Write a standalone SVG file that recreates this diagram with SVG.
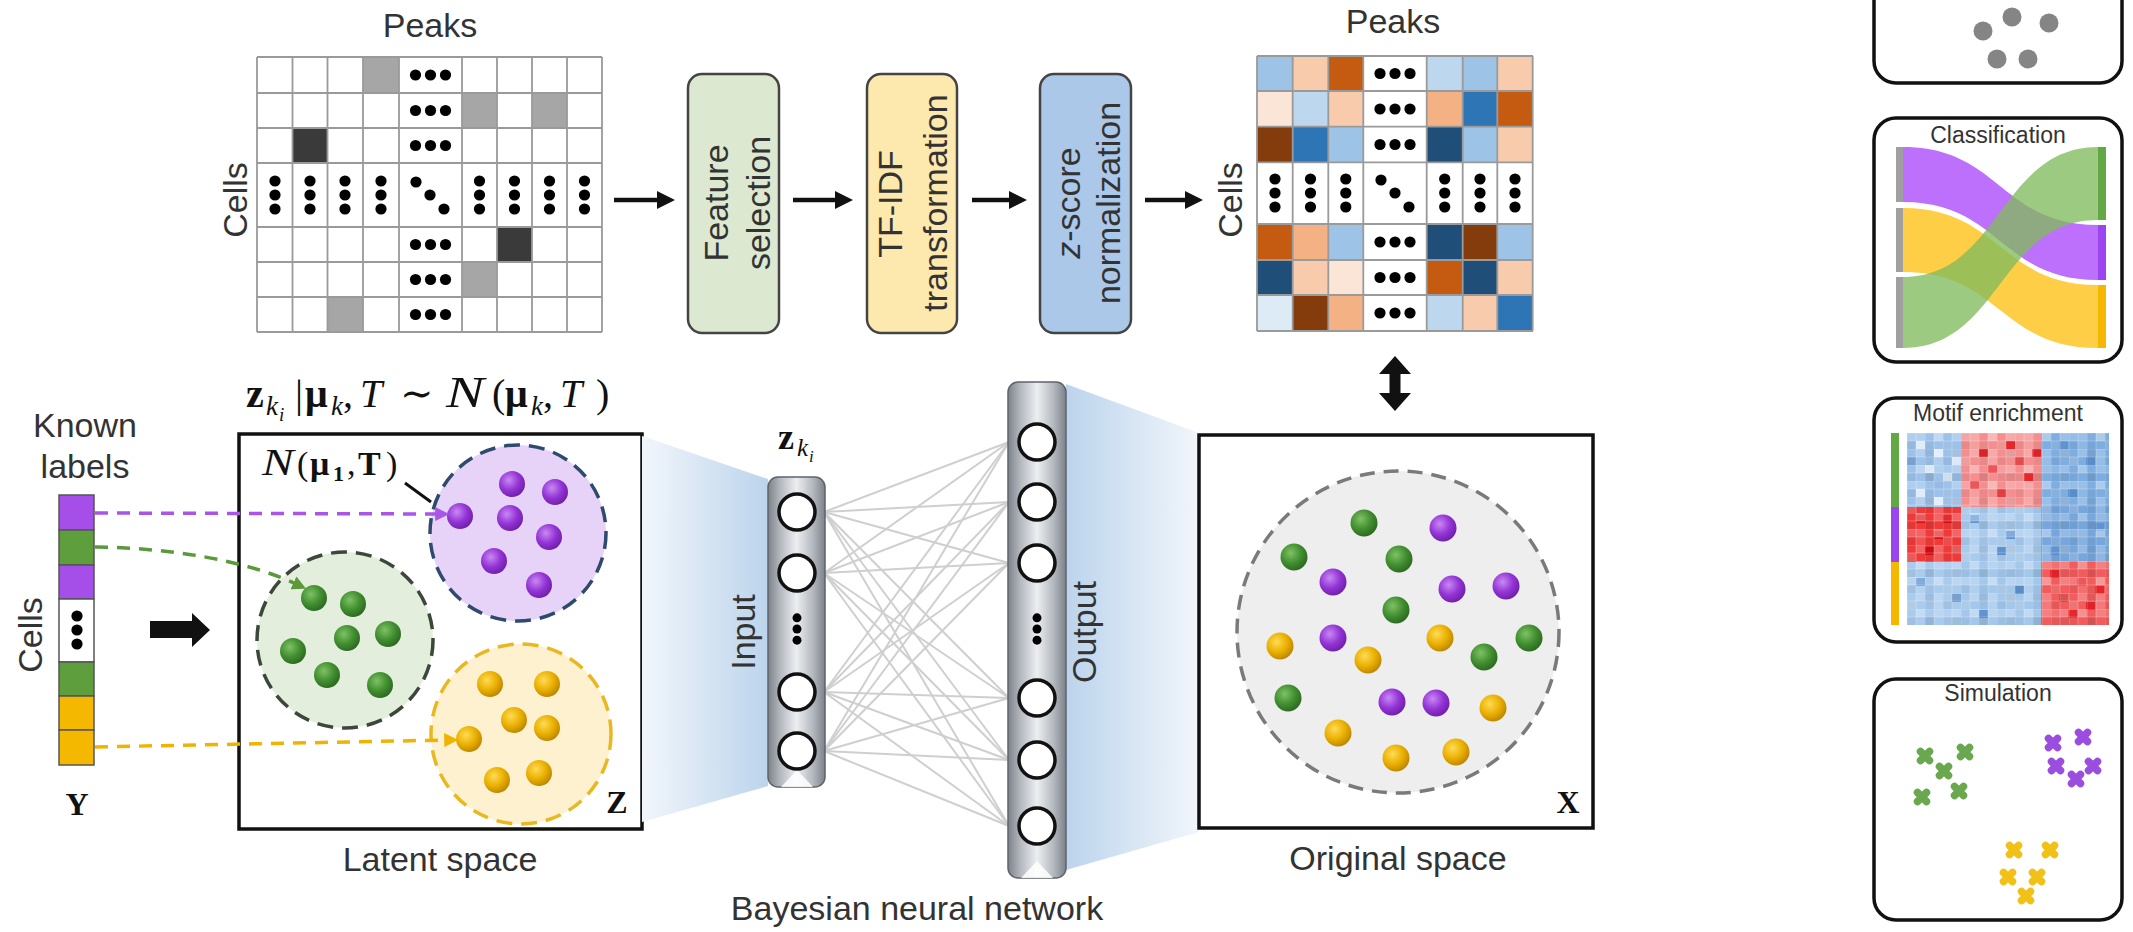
<svg xmlns="http://www.w3.org/2000/svg" width="2133" height="932" viewBox="0 0 2133 932">
<defs>
<style>
.lbl{font-family:"Liberation Sans",Arial,sans-serif;font-size:34px;fill:#333}
.sm{font-family:"Liberation Sans",Arial,sans-serif;font-size:23px;fill:#333}
.math{font-family:"Liberation Serif","DejaVu Serif",serif;fill:#111}
.grid{stroke:#9a9a9a;stroke-width:1.8;fill:none}
.step{stroke:#444;stroke-width:2.5}
.arrow{stroke:#111;stroke-width:4.5;fill:none}
.edge{stroke:#cfcfcf;stroke-width:2}
.unit{fill:#fff;stroke:#111;stroke-width:3.5}
.col{fill:url(#metal);stroke:#5f636b;stroke-width:1.5}
.panel{fill:#fff;stroke:#111;stroke-width:3.5}
.dot{fill:#000}
.ycell{stroke:#555;stroke-width:1.5}
.ball-p{fill:url(#gp)}
.ball-g{fill:url(#gg)}
.ball-y{fill:url(#gy)}
</style>
<marker id="ah" viewBox="0 0 10 10" refX="0" refY="5" markerWidth="4" markerHeight="4" orient="auto" markerUnits="strokeWidth">
<path d="M0,0L10,5L0,10Z" fill="#111"/>
</marker>
<marker id="ahp" viewBox="0 0 10 10" refX="2" refY="5" markerWidth="14" markerHeight="14" orient="auto" markerUnits="userSpaceOnUse">
<path d="M0,0L10,5L0,10Z" fill="#a855e8"/>
</marker>
<marker id="ahg" viewBox="0 0 10 10" refX="2" refY="5" markerWidth="14" markerHeight="14" orient="auto" markerUnits="userSpaceOnUse">
<path d="M0,0L10,5L0,10Z" fill="#5a9a3a"/>
</marker>
<marker id="ahy" viewBox="0 0 10 10" refX="2" refY="5" markerWidth="14" markerHeight="14" orient="auto" markerUnits="userSpaceOnUse">
<path d="M0,0L10,5L0,10Z" fill="#f0b400"/>
</marker>
<radialGradient id="gp" cx="0.38" cy="0.35" r="0.7">
<stop offset="0" stop-color="#c889f2"/><stop offset="0.55" stop-color="#9434d6"/><stop offset="1" stop-color="#6c1ea6"/>
</radialGradient>
<radialGradient id="gg" cx="0.38" cy="0.35" r="0.7">
<stop offset="0" stop-color="#7fc266"/><stop offset="0.55" stop-color="#418f30"/><stop offset="1" stop-color="#2c6620"/>
</radialGradient>
<radialGradient id="gy" cx="0.38" cy="0.35" r="0.7">
<stop offset="0" stop-color="#ffdb55"/><stop offset="0.55" stop-color="#eab000"/><stop offset="1" stop-color="#b98300"/>
</radialGradient>
<linearGradient id="metal" x1="0" y1="0" x2="1" y2="0">
<stop offset="0" stop-color="#7d8189"/><stop offset="0.22" stop-color="#b5b9c0"/><stop offset="0.5" stop-color="#eceef1"/><stop offset="0.78" stop-color="#b5b9c0"/><stop offset="1" stop-color="#7d8189"/>
</linearGradient>
<linearGradient id="fanL" gradientUnits="userSpaceOnUse" x1="642" y1="0" x2="768" y2="0">
<stop offset="0" stop-color="#f2f6fb"/><stop offset="1" stop-color="#bcd4ec"/>
</linearGradient>
<linearGradient id="fanR" gradientUnits="userSpaceOnUse" x1="1066" y1="0" x2="1199" y2="0">
<stop offset="0" stop-color="#bcd4ec"/><stop offset="1" stop-color="#f2f6fb"/>
</linearGradient>
<pattern id="tex1" width="18" height="16" patternUnits="userSpaceOnUse" x="1907" y="433">
<rect x="9" y="0" width="9" height="8" fill="#fff" opacity="0.22"/>
<rect x="0" y="8" width="9" height="8" fill="#000" opacity="0.05"/>
<path d="M0 0H18M0 8H18M0 0V16M9 0V16" stroke="#fff" stroke-opacity="0.25" stroke-width="1"/>
</pattern>
<pattern id="tex2" width="27" height="24" patternUnits="userSpaceOnUse" x="1907" y="433">
<rect x="0" y="0" width="9" height="8" fill="#fff" opacity="0.18"/>
<rect x="18" y="16" width="9" height="8" fill="#000" opacity="0.07"/>
<rect x="9" y="8" width="9" height="8" fill="#fff" opacity="0.12"/>
</pattern>
<g id="h3"><circle cx="-15" cy="0" r="5.6"/><circle cx="0" cy="0" r="5.6"/><circle cx="15" cy="0" r="5.6"/></g>
<g id="v3"><circle cx="0" cy="-14" r="5.6"/><circle cx="0" cy="0" r="5.6"/><circle cx="0" cy="14" r="5.6"/></g>
<g id="d3"><circle cx="-14" cy="-13" r="5.6"/><circle cx="0" cy="0" r="5.6"/><circle cx="14" cy="14" r="5.6"/></g>
<path id="xm" d="M-4.5,-4.5L4.5,4.5M4.5,-4.5L-4.5,4.5" stroke-width="7.5" stroke-linecap="round" fill="none"/>
</defs>

<rect width="2133" height="932" fill="#fff"/>

<!-- raw peak matrix -->
<g id="raw-matrix">
<text class="lbl" x="430" y="37" text-anchor="middle">Peaks</text>
<text class="lbl" transform="translate(247,200) rotate(-90)" text-anchor="middle">Cells</text>
<rect x="257" y="57" width="345" height="275" fill="#fff"/>
<g fill="#a6a6a6">
<rect x="363" y="57" width="36" height="36"/>
<rect x="462" y="93" width="35" height="35"/>
<rect x="532" y="93" width="35" height="35"/>
<rect x="462" y="262" width="35" height="35"/>
<rect x="327.5" y="297" width="35.5" height="35"/>
</g>
<g fill="#3a3a3a">
<rect x="292.5" y="128" width="35" height="35"/>
<rect x="497" y="227" width="35" height="35"/>
</g>
<path class="grid" d="M257 57H602M257 93H602M257 128H602M257 163H602M257 227H602M257 262H602M257 297H602M257 332H602M257 57V332M292.5 57V332M327.5 57V332M363 57V332M399 57V332M462 57V332M497 57V332M532 57V332M567 57V332M602 57V332"/>
<g class="dot">
<use href="#h3" x="430.5" y="75"/><use href="#h3" x="430.5" y="110.5"/><use href="#h3" x="430.5" y="145.5"/>
<use href="#h3" x="430.5" y="244.5"/><use href="#h3" x="430.5" y="279.5"/><use href="#h3" x="430.5" y="314.5"/>
<use href="#v3" x="275" y="195"/><use href="#v3" x="310" y="195"/><use href="#v3" x="345" y="195"/><use href="#v3" x="381" y="195"/>
<use href="#v3" x="479.5" y="195"/><use href="#v3" x="514.5" y="195"/><use href="#v3" x="549.5" y="195"/><use href="#v3" x="584.5" y="195"/>
<use href="#d3" x="430" y="195"/>
</g>
</g>

<!-- preprocessing steps -->
<g id="feature-selection">
<rect class="step" x="688" y="74" width="91" height="259" rx="14" fill="#dde8d1"/>
<text class="lbl" transform="translate(728,203) rotate(-90)" text-anchor="middle">Feature</text>
<text class="lbl" transform="translate(770,203) rotate(-90)" text-anchor="middle">selection</text>
</g>
<g id="tfidf">
<rect class="step" x="867" y="74" width="90" height="259" rx="14" fill="#fde8ae"/>
<text class="lbl" transform="translate(902,204) rotate(-90)" text-anchor="middle">TF-IDF</text>
<text class="lbl" transform="translate(947,203) rotate(-90)" text-anchor="middle">transformation</text>
</g>
<g id="zscore">
<rect class="step" x="1040" y="74" width="91" height="259" rx="14" fill="#abc8e8"/>
<text class="lbl" transform="translate(1080,203) rotate(-90)" text-anchor="middle"><tspan font-style="italic">z</tspan>-score</text>
<text class="lbl" transform="translate(1120,203) rotate(-90)" text-anchor="middle">normalization</text>
</g>

<!-- normalized matrix -->
<g id="norm-matrix">
<text class="lbl" x="1393" y="33" text-anchor="middle">Peaks</text>
<text class="lbl" transform="translate(1242,200) rotate(-90)" text-anchor="middle">Cells</text>
<rect x="1257" y="56" width="276" height="275" fill="#fff"/>
<rect x="1257" y="56" width="35.7" height="35" fill="#9dc3e6"/>
<rect x="1292.7" y="56" width="35.6" height="35" fill="#f8cbad"/>
<rect x="1328.3" y="56" width="35" height="35" fill="#c55a11"/>
<rect x="1426.7" y="56" width="36" height="35" fill="#bdd7ee"/>
<rect x="1462.7" y="56" width="34.6" height="35" fill="#9dc3e6"/>
<rect x="1497.3" y="56" width="35.4" height="35" fill="#f8cbad"/>
<rect x="1257" y="91" width="35.7" height="35.7" fill="#fbe5d6"/>
<rect x="1292.7" y="91" width="35.6" height="35.7" fill="#bdd7ee"/>
<rect x="1328.3" y="91" width="35" height="35.7" fill="#f8cbad"/>
<rect x="1426.7" y="91" width="36" height="35.7" fill="#f4b183"/>
<rect x="1462.7" y="91" width="34.6" height="35.7" fill="#2e75b6"/>
<rect x="1497.3" y="91" width="35.4" height="35.7" fill="#c55a11"/>
<rect x="1257" y="126.7" width="35.7" height="35.6" fill="#843c0c"/>
<rect x="1292.7" y="126.7" width="35.6" height="35.6" fill="#2e75b6"/>
<rect x="1328.3" y="126.7" width="35" height="35.6" fill="#9dc3e6"/>
<rect x="1426.7" y="126.7" width="36" height="35.6" fill="#1f4e79"/>
<rect x="1462.7" y="126.7" width="34.6" height="35.6" fill="#9dc3e6"/>
<rect x="1497.3" y="126.7" width="35.4" height="35.6" fill="#f8cbad"/>
<rect x="1257" y="224" width="35.7" height="36" fill="#c55a11"/>
<rect x="1292.7" y="224" width="35.6" height="36" fill="#f4b183"/>
<rect x="1328.3" y="224" width="35" height="36" fill="#9dc3e6"/>
<rect x="1426.7" y="224" width="36" height="36" fill="#1f4e79"/>
<rect x="1462.7" y="224" width="34.6" height="36" fill="#843c0c"/>
<rect x="1497.3" y="224" width="35.4" height="36" fill="#9dc3e6"/>
<rect x="1257" y="260" width="35.7" height="35" fill="#1f4e79"/>
<rect x="1292.7" y="260" width="35.6" height="35" fill="#f8cbad"/>
<rect x="1328.3" y="260" width="35" height="35" fill="#fbe5d6"/>
<rect x="1426.7" y="260" width="36" height="35" fill="#c55a11"/>
<rect x="1462.7" y="260" width="34.6" height="35" fill="#1f4e79"/>
<rect x="1497.3" y="260" width="35.4" height="35" fill="#f8cbad"/>
<rect x="1257" y="295" width="35.7" height="36" fill="#ddebf7"/>
<rect x="1292.7" y="295" width="35.6" height="36" fill="#843c0c"/>
<rect x="1328.3" y="295" width="35" height="36" fill="#f4b183"/>
<rect x="1426.7" y="295" width="36" height="36" fill="#bdd7ee"/>
<rect x="1462.7" y="295" width="34.6" height="36" fill="#f8cbad"/>
<rect x="1497.3" y="295" width="35.4" height="36" fill="#2e75b6"/>
<path class="grid" d="M1257 56H1533M1257 91H1533M1257 126.7H1533M1257 162.3H1533M1257 224H1533M1257 260H1533M1257 295H1533M1257 331H1533M1257 56V331M1292.7 56V331M1328.3 56V331M1363.3 56V331M1426.7 56V331M1462.7 56V331M1497.3 56V331M1532.7 56V331"/>
<g class="dot">
<use href="#h3" x="1395" y="73.5"/><use href="#h3" x="1395" y="109"/><use href="#h3" x="1395" y="144.5"/>
<use href="#h3" x="1395" y="242"/><use href="#h3" x="1395" y="277.5"/><use href="#h3" x="1395" y="313"/>
<use href="#v3" x="1275" y="193"/><use href="#v3" x="1310.5" y="193"/><use href="#v3" x="1345.8" y="193"/>
<use href="#v3" x="1444.7" y="193"/><use href="#v3" x="1480" y="193"/><use href="#v3" x="1515" y="193"/>
<use href="#d3" x="1395" y="193"/>
</g>
</g>

<!-- known label vector -->
<g id="labels-y">
<text class="lbl" x="85" y="437" text-anchor="middle">Known</text>
<text class="lbl" x="85" y="478" text-anchor="middle">labels</text>
<text class="lbl" transform="translate(42,635) rotate(-90)" text-anchor="middle">Cells</text>
<rect class="ycell" x="59" y="495" width="35" height="35" fill="#a64ee8"/>
<rect class="ycell" x="59" y="530" width="35" height="35" fill="#5f9e3d"/>
<rect class="ycell" x="59" y="565" width="35" height="34" fill="#a64ee8"/>
<rect class="ycell" x="59" y="599" width="35" height="63" fill="#fff"/>
<rect class="ycell" x="59" y="662" width="35" height="34" fill="#5f9e3d"/>
<rect class="ycell" x="59" y="696" width="35" height="34" fill="#f5b800"/>
<rect class="ycell" x="59" y="730" width="35" height="35" fill="#f5b800"/>
<use class="dot" href="#v3" x="77" y="630"/>
<text class="math" x="77" y="815" font-size="32" font-weight="bold" text-anchor="middle">Y</text>
</g>

<!-- latent space -->
<g id="latent-space">
<text class="math" font-size="40"><tspan x="246" y="407" font-weight="bold">z</tspan><tspan x="266" y="415" font-size="27" font-style="italic">k</tspan><tspan x="279" y="421" font-size="19" font-style="italic">i</tspan><tspan x="295" y="407">|</tspan><tspan x="305" y="407" font-weight="bold">μ</tspan><tspan x="331" y="415" font-size="27" font-style="italic">k</tspan><tspan x="343" y="407">,</tspan><tspan x="360" y="407" font-style="italic">T</tspan><tspan x="400" y="407">∼</tspan><tspan x="492" y="407">(</tspan><tspan x="505" y="407" font-weight="bold">μ</tspan><tspan x="531" y="415" font-size="27" font-style="italic">k</tspan><tspan x="543" y="407">,</tspan><tspan x="560" y="407" font-style="italic">T</tspan><tspan x="596" y="407">)</tspan></text>
<text class="math" font-size="44" font-style="italic" transform="translate(446,407) scale(1.3,1)">N</text>
<rect x="239" y="434" width="403" height="395" fill="#fff" stroke="#111" stroke-width="3.5"/>
<circle cx="518" cy="533" r="88" fill="#e7d3f8" stroke="#2e4a6e" stroke-width="3.5" stroke-dasharray="16 9"/>
<circle cx="345" cy="640" r="88" fill="#e3eedd" stroke="#3c473c" stroke-width="3.5" stroke-dasharray="16 9"/>
<circle cx="521" cy="734" r="90" fill="#fdf1cf" stroke="#e9b820" stroke-width="3.5" stroke-dasharray="16 9"/>
<text class="math" font-size="34"><tspan x="297" y="475">(</tspan><tspan x="310" y="475" font-weight="bold">μ</tspan><tspan x="333" y="481" font-size="22" font-weight="bold">1</tspan><tspan x="347" y="475">,</tspan><tspan x="358" y="475" font-weight="bold">T</tspan><tspan x="386" y="475">)</tspan></text>
<text class="math" font-size="38" font-style="italic" transform="translate(262,475) scale(1.25,1)">N</text>
<line x1="405" y1="483" x2="431" y2="502" stroke="#111" stroke-width="3"/>
<g class="ball-p">
<circle cx="460" cy="516" r="13"/><circle cx="512" cy="484" r="13"/><circle cx="555" cy="492" r="13"/><circle cx="510" cy="518" r="13"/><circle cx="549" cy="537" r="13"/><circle cx="494" cy="561" r="13"/><circle cx="539" cy="585" r="13"/>
</g>
<g class="ball-g">
<circle cx="314" cy="598" r="13"/><circle cx="353" cy="604" r="13"/><circle cx="347" cy="638" r="13"/><circle cx="388" cy="634" r="13"/><circle cx="293" cy="651" r="13"/><circle cx="327" cy="675" r="13"/><circle cx="380" cy="685" r="13"/>
</g>
<g class="ball-y">
<circle cx="490" cy="684" r="13"/><circle cx="547" cy="684" r="13"/><circle cx="514" cy="720" r="13"/><circle cx="547" cy="728" r="13"/><circle cx="469" cy="739" r="13"/><circle cx="497" cy="780" r="13"/><circle cx="539" cy="773" r="13"/>
</g>
<text class="math" x="617" y="813" font-size="32" font-weight="bold" text-anchor="middle">Z</text>
<text class="lbl" x="440" y="871" text-anchor="middle">Latent space</text>
</g>

<!-- projection fans -->
<g id="fans">
<polygon points="642,436 768,479 768,786 642,822" fill="url(#fanL)"/>
<polygon points="1066,384 1199,433 1199,832 1066,870" fill="url(#fanR)"/>
</g>

<!-- connectors -->
<g id="connectors">
<line class="arrow" x1="614" y1="200" x2="657" y2="200" marker-end="url(#ah)"/>
<line class="arrow" x1="793" y1="200" x2="835" y2="200" marker-end="url(#ah)"/>
<line class="arrow" x1="972" y1="200" x2="1009" y2="200" marker-end="url(#ah)"/>
<line class="arrow" x1="1145" y1="200" x2="1185" y2="200" marker-end="url(#ah)"/>
<polygon points="1395,356 1411,374 1400.5,374 1400.5,393 1411,393 1395,411 1379,393 1389.5,393 1389.5,374 1379,374" fill="#111"/>
<polygon points="150,621 192,621 192,613 210,630 192,647 192,638 150,638" fill="#111"/>
<path d="M95,513L438,514" fill="none" stroke="#a855e8" stroke-width="3.5" stroke-dasharray="13 9" marker-end="url(#ahp)"/>
<path d="M95,547C170,548 245,560 296,584" fill="none" stroke="#5a9a3a" stroke-width="3.5" stroke-dasharray="13 9" marker-end="url(#ahg)"/>
<path d="M95,747L447,740" fill="none" stroke="#f0b400" stroke-width="3.5" stroke-dasharray="13 9" marker-end="url(#ahy)"/>
<g class="edge">
<line x1="824" y1="512" x2="1009" y2="442"/><line x1="824" y1="512" x2="1009" y2="502"/><line x1="824" y1="512" x2="1009" y2="563"/><line x1="824" y1="512" x2="1009" y2="698"/><line x1="824" y1="512" x2="1009" y2="760"/><line x1="824" y1="512" x2="1009" y2="826"/>
<line x1="824" y1="573" x2="1009" y2="442"/><line x1="824" y1="573" x2="1009" y2="502"/><line x1="824" y1="573" x2="1009" y2="563"/><line x1="824" y1="573" x2="1009" y2="698"/><line x1="824" y1="573" x2="1009" y2="760"/><line x1="824" y1="573" x2="1009" y2="826"/>
<line x1="824" y1="692" x2="1009" y2="442"/><line x1="824" y1="692" x2="1009" y2="502"/><line x1="824" y1="692" x2="1009" y2="563"/><line x1="824" y1="692" x2="1009" y2="698"/><line x1="824" y1="692" x2="1009" y2="760"/><line x1="824" y1="692" x2="1009" y2="826"/>
<line x1="824" y1="751" x2="1009" y2="442"/><line x1="824" y1="751" x2="1009" y2="502"/><line x1="824" y1="751" x2="1009" y2="563"/><line x1="824" y1="751" x2="1009" y2="698"/><line x1="824" y1="751" x2="1009" y2="760"/><line x1="824" y1="751" x2="1009" y2="826"/>
</g>
</g>

<!-- decoder network -->
<g id="input-layer">
<text class="math" font-size="36"><tspan x="778" y="449" font-weight="bold">z</tspan><tspan x="797" y="456" font-size="25" font-style="italic">k</tspan><tspan x="809" y="462" font-size="17" font-style="italic">i</tspan></text>
<rect class="col" x="768" y="477" width="57" height="310" rx="10"/>
<path d="M781,787L797,770L813,787Z" fill="#fff" opacity="0.85"/>
<circle class="unit" cx="797" cy="512" r="18"/>
<circle class="unit" cx="797" cy="573" r="18"/>
<circle class="unit" cx="797" cy="692" r="18"/>
<circle class="unit" cx="797" cy="751" r="18"/>
<use class="dot" href="#v3" x="797" y="629" transform="translate(797,629) scale(0.8) translate(-797,-629)"/>
<text class="lbl" transform="translate(755,632) rotate(-90)" text-anchor="middle">Input</text>
</g>
<g id="output-layer">
<rect class="col" x="1008" y="382" width="58" height="496" rx="10"/>
<path d="M1021,878L1037,861L1053,878Z" fill="#fff" opacity="0.85"/>
<circle class="unit" cx="1037" cy="442" r="18"/>
<circle class="unit" cx="1037" cy="502" r="18"/>
<circle class="unit" cx="1037" cy="563" r="18"/>
<circle class="unit" cx="1037" cy="698" r="18"/>
<circle class="unit" cx="1037" cy="760" r="18"/>
<circle class="unit" cx="1037" cy="826" r="18"/>
<use class="dot" href="#v3" x="1037" y="629" transform="translate(1037,629) scale(0.8) translate(-1037,-629)"/>
<text class="lbl" transform="translate(1096,632) rotate(-90)" text-anchor="middle">Output</text>
</g>
<text class="lbl" x="917" y="920" text-anchor="middle">Bayesian neural network</text>

<!-- original space -->
<g id="original-space">
<rect x="1199" y="435" width="394" height="393" fill="#fff" stroke="#111" stroke-width="3.5"/>
<circle cx="1398" cy="632" r="161" fill="#eeeeee" stroke="#7a7a7a" stroke-width="3.5" stroke-dasharray="15 9"/>
<g class="ball-g">
<circle cx="1364" cy="523" r="13.5"/><circle cx="1294" cy="557" r="13.5"/><circle cx="1399" cy="559" r="13.5"/><circle cx="1396" cy="610" r="13.5"/><circle cx="1529" cy="638" r="13.5"/><circle cx="1484" cy="657" r="13.5"/><circle cx="1288" cy="698" r="13.5"/>
</g>
<g class="ball-p">
<circle cx="1443" cy="528" r="13.5"/><circle cx="1333" cy="582" r="13.5"/><circle cx="1452" cy="589" r="13.5"/><circle cx="1506" cy="586" r="13.5"/><circle cx="1333" cy="638" r="13.5"/><circle cx="1392" cy="702" r="13.5"/><circle cx="1436" cy="703" r="13.5"/>
</g>
<g class="ball-y">
<circle cx="1280" cy="646" r="13.5"/><circle cx="1368" cy="660" r="13.5"/><circle cx="1440" cy="638" r="13.5"/><circle cx="1493" cy="708" r="13.5"/><circle cx="1338" cy="733" r="13.5"/><circle cx="1396" cy="758" r="13.5"/><circle cx="1456" cy="752" r="13.5"/>
</g>
<text class="math" x="1568" y="813" font-size="32" font-weight="bold" text-anchor="middle">X</text>
<text class="lbl" x="1398" y="870" text-anchor="middle">Original space</text>
</g>

<!-- application panels -->
<g id="panel-clustering">
<rect class="panel" x="1874" y="-30" width="248" height="113" rx="22"/>
<g fill="#858585">
<circle cx="1983" cy="31" r="9.5"/><circle cx="2012" cy="17" r="9.5"/><circle cx="2049" cy="23" r="9.5"/><circle cx="1997" cy="59" r="9.5"/><circle cx="2028" cy="59" r="9.5"/>
</g>
</g>
<g id="panel-classification">
<rect class="panel" x="1874" y="118" width="248" height="244" rx="22"/>
<text class="sm" x="1998" y="143" text-anchor="middle">Classification</text>
<path d="M1903,147C2000,147 2000,225 2098,225L2098,280C2000,280 2000,202 1903,202Z" fill="#b45cfa" fill-opacity="0.88"/>
<path d="M1903,208C2000,208 2000,285 2098,285L2098,348C2000,348 2000,272 1903,272Z" fill="#ffc933" fill-opacity="0.9"/>
<path d="M1903,277C2000,277 2000,147 2098,147L2098,220C2000,220 2000,348 1903,348Z" fill="#82bb5e" fill-opacity="0.78"/>
<g fill="#a0a0a0">
<rect x="1896" y="147" width="7" height="55"/><rect x="1896" y="208" width="7" height="64"/><rect x="1896" y="277" width="7" height="71"/>
</g>
<rect x="2098" y="147" width="8" height="73" fill="#62a844"/>
<rect x="2098" y="225" width="8" height="55" fill="#9b45f0"/>
<rect x="2098" y="285" width="8" height="63" fill="#f5b800"/>
</g>
<g id="panel-motif">
<rect class="panel" x="1874" y="398" width="248" height="244" rx="22"/>
<text class="sm" x="1998" y="421" text-anchor="middle">Motif enrichment</text>
<rect x="1891" y="433" width="8" height="74" fill="#62a844"/>
<rect x="1891" y="507" width="8" height="55" fill="#9b45f0"/>
<rect x="1891" y="562" width="8" height="63" fill="#f5b800"/>
<rect x="1907" y="433" width="54" height="74" fill="#9dc2ea"/>
<rect x="1961" y="433" width="80" height="74" fill="#f58f8f"/>
<rect x="2041" y="433" width="68" height="74" fill="#7eaee0"/>
<rect x="1907" y="507" width="54" height="55" fill="#f03a3a"/>
<rect x="1961" y="507" width="80" height="55" fill="#a9cbee"/>
<rect x="2041" y="507" width="68" height="55" fill="#76a6dc"/>
<rect x="1907" y="562" width="54" height="63" fill="#a9cbee"/>
<rect x="1961" y="562" width="80" height="63" fill="#a4c8ec"/>
<rect x="2041" y="562" width="68" height="63" fill="#f25c5c"/>
<g fill="#e8262a">
<rect x="1979" y="449" width="9" height="8"/><rect x="2006" y="441" width="9" height="8"/><rect x="1988" y="465" width="9" height="8"/><rect x="2015" y="457" width="9" height="8"/><rect x="1970" y="481" width="9" height="8"/><rect x="2024" y="473" width="9" height="8"/><rect x="1997" y="489" width="9" height="8"/><rect x="2032" y="449" width="9" height="8"/>
<rect x="2050" y="570" width="9" height="8"/><rect x="2077" y="578" width="9" height="8"/><rect x="2059" y="594" width="9" height="8"/><rect x="2095" y="586" width="9" height="8"/><rect x="2068" y="610" width="9" height="8"/><rect x="2086" y="602" width="9" height="8"/>
</g>
<g fill="#dc0f12">
<rect x="1916" y="515" width="9" height="8"/><rect x="1934" y="531" width="9" height="8"/><rect x="1925" y="547" width="9" height="8"/><rect x="1943" y="515" width="9" height="8"/>
</g>
<g fill="#dde9f8">
<rect x="1916" y="441" width="9" height="8"/><rect x="1934" y="449" width="9" height="8"/><rect x="1925" y="465" width="9" height="8"/><rect x="1943" y="473" width="9" height="8"/><rect x="1916" y="489" width="9" height="8"/><rect x="1952" y="457" width="9" height="8"/><rect x="1934" y="497" width="9" height="8"/>
</g>
<g fill="#5f93d2">
<rect x="1907" y="457" width="9" height="8"/><rect x="1934" y="481" width="9" height="8"/><rect x="1970" y="515" width="9" height="8"/><rect x="2006" y="531" width="9" height="8"/><rect x="1997" y="547" width="9" height="8"/><rect x="1916" y="578" width="9" height="8"/><rect x="1952" y="594" width="9" height="8"/><rect x="2015" y="586" width="9" height="8"/><rect x="1979" y="610" width="9" height="8"/><rect x="2059" y="441" width="9" height="8"/><rect x="2086" y="457" width="9" height="8"/><rect x="2068" y="489" width="9" height="8"/><rect x="2095" y="523" width="9" height="8"/><rect x="2050" y="547" width="9" height="8"/>
</g>
<rect x="1907" y="433" width="202" height="192" fill="url(#tex1)"/>
<rect x="1907" y="433" width="202" height="192" fill="url(#tex2)"/>
</g>
<g id="panel-simulation">
<rect class="panel" x="1874" y="679" width="248" height="241" rx="22"/>
<text class="sm" x="1998" y="701" text-anchor="middle">Simulation</text>
<g stroke="#6aa84f">
<use href="#xm" x="1925" y="756"/><use href="#xm" x="1965" y="752"/><use href="#xm" x="1944" y="771"/><use href="#xm" x="1922" y="797"/><use href="#xm" x="1959" y="791"/>
</g>
<g stroke="#9b4de0">
<use href="#xm" x="2053" y="743"/><use href="#xm" x="2083" y="737"/><use href="#xm" x="2056" y="766"/><use href="#xm" x="2093" y="766"/><use href="#xm" x="2076" y="779"/>
</g>
<g stroke="#f1c118">
<use href="#xm" x="2014" y="850"/><use href="#xm" x="2050" y="850"/><use href="#xm" x="2008" y="877"/><use href="#xm" x="2037" y="877"/><use href="#xm" x="2026" y="896"/>
</g>
</g>
</svg>
